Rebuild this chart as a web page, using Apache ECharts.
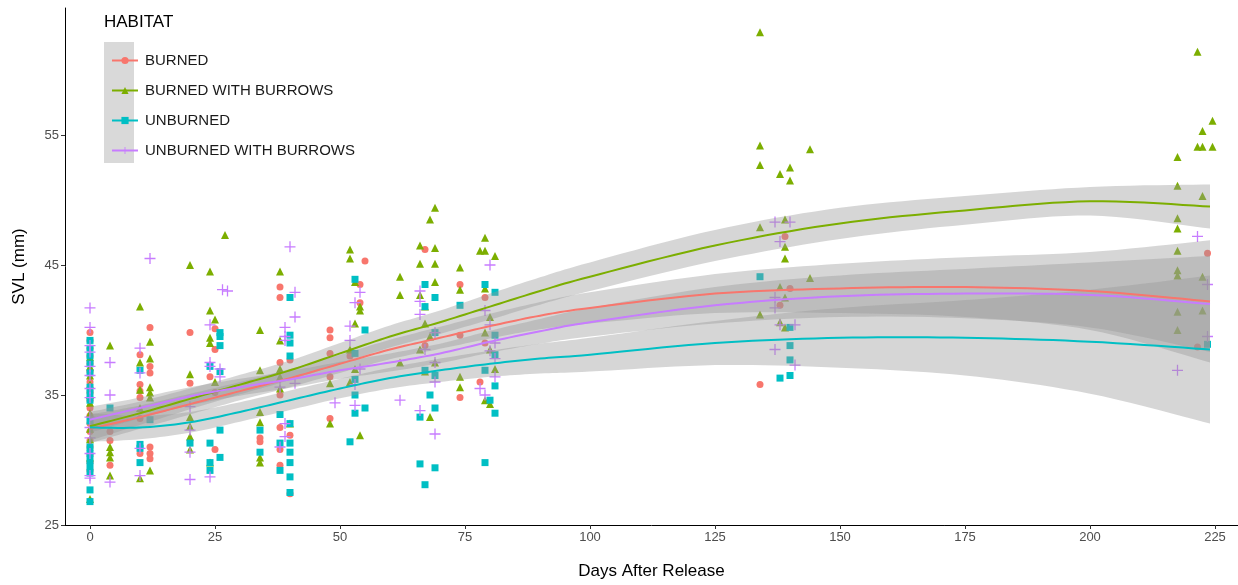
<!DOCTYPE html>
<html lang="en">
<head>
    <meta charset="UTF-8">
    <title>SVL by habitat</title>
    <script src="https://cdn.jsdelivr.net/npm/echarts@6/dist/echarts.min.js"></script>
    <style>
        * { margin: 0; padding: 0 }
        html, body { width: 100%; height: 100%; background: #fff; }
        #main { width: 1238px; height: 585px; }
    </style>
</head>
<body>
<div id="main"></div>
<script type="text/javascript">
    // habitat groups and colours (ggplot default hues)
    var habitats = ['BURNED', 'BURNED WITH BURROWS', 'UNBURNED', 'UNBURNED WITH BURROWS'];
    var colors = ['#F8766D', '#7CAE00', '#00BFC4', '#C77CFF'];

    // days where the smooth curves were read
    var fitDays = [0, 10, 20, 30, 40, 50, 60, 70, 80, 90, 100, 125, 150, 175, 200, 224];

    // loess fits
    var burnedFit   = [32.4, 33.3, 34.3, 35.3, 36.3, 37.4, 38.5, 39.4, 40.3, 41.1, 41.7, 42.8, 43.2, 43.3, 43.0, 42.2];
    var burrowsFit  = [32.6, 33.6, 34.7, 35.8, 36.9, 38.2, 39.5, 40.6, 41.8, 43.0, 44.1, 46.5, 48.2, 49.2, 49.9, 49.5];
    var unburnedFit = [32.5, 32.5, 32.9, 33.7, 34.6, 35.5, 36.3, 36.9, 37.4, 37.8, 38.1, 39.0, 39.4, 39.4, 39.1, 38.5];
    var unbBurrFit  = [33.1, 34.0, 34.9, 35.6, 36.2, 36.9, 37.5, 38.2, 39.1, 39.9, 40.6, 41.9, 42.6, 42.8, 42.7, 42.0];

    // half width of the confidence ribbons
    var burnedSe   = [1.1, 0.9, 0.8, 0.7, 0.7, 0.7, 0.75, 0.85, 0.95, 1.05, 1.2, 1.5, 1.9, 2.3, 3.0, 4.7];
    var burrowsSe  = [1.1, 0.9, 0.8, 0.75, 0.75, 0.8, 0.85, 0.9, 1.0, 1.05, 1.1, 1.2, 1.2, 1.1, 1.1, 1.7];
    var unburnedSe = [1.1, 0.9, 0.8, 0.75, 0.75, 0.75, 0.8, 0.9, 1.0, 1.15, 1.3, 1.7, 2.3, 2.9, 4.0, 5.7];
    var unbBurrSe  = [1.0, 0.8, 0.7, 0.65, 0.65, 0.65, 0.7, 0.75, 0.85, 0.95, 1.1, 1.4, 1.6, 1.9, 2.5, 3.7];

    // observations [day, SVL]
    var burnedPts = [
        [0,39.8],[0,39.2],[0,38.6],[0,38.0],[0,37.4],[0,36.8],[0,36.0],[0,35.2],[0,34.6],[0,34.0],[0,33.4],
        [0,32.8],[0,32.2],[0,31.5],[0,31.0],[0,30.4],[0,29.8],[0,29.2],
        [4,32.2],[4,31.5],[4,29.6],
        [10,38.1],[10,35.8],[10,35.3],[10,34.8],[10,33.2],[10,30.5],
        [12,40.2],[12,37.2],[12,36.7],[12,31.0],[12,30.5],[12,30.1],
        [20,39.8],[20,35.9],[24,36.4],
        [25,40.1],[25,38.5],[25,35.2],[25,30.8],
        [34,31.7],[34,31.4],
        [38,43.3],[38,42.5],[38,37.5],[38,35.0],[38,32.5],[38,30.8],[38,29.6],
        [40,37.7],[40,31.9],[40,27.4],
        [48,40.0],[48,39.4],[48,38.2],[48,36.4],[48,33.2],
        [52,38.0],[54,43.5],[54,42.1],[55,45.3],
        [67,46.2],[67,38.8],
        [74,43.5],[74,39.6],[74,34.8],
        [78,36.0],[79,42.5],[79,39.0],
        [134,35.8],[139,47.2],[140,43.2],[138,41.9],
        [223.5,45.9],[221.5,38.7]
    ];
    var burrowsPts = [
        [0,37.9],[0,37.2],[0,36.5],[0,35.8],[0,35.0],[0,34.4],[0,33.6],[0,32.4],[0,31.6],[0,30.2],[0,27.0],
        [4,38.8],[4,31.0],[4,30.6],[4,30.2],[4,28.8],
        [10,41.8],[10,37.5],[10,35.4],[10,34.0],[10,28.6],
        [12,39.1],[12,37.8],[12,35.6],[12,35.2],[12,34.8],[12,29.2],
        [20,45.0],[20,36.6],[20,33.3],[20,32.6],[20,31.8],[20,30.8],
        [24,44.5],[24,41.5],[24,39.4],[24,39.0],[24,29.8],
        [25,40.8],[25,36.0],[27,47.3],
        [34,40.0],[34,36.9],[34,33.7],[34,32.9],[34,30.2],[34,29.8],
        [38,44.5],[38,39.2],[38,37.0],[38,36.4],[38,35.5],[40,32.8],
        [48,35.9],[48,32.8],
        [52,46.2],[52,45.5],[53,43.7],[54,41.8],[54,41.5],[53,40.5],[52,38.5],[53,37.0],[52,36.0],[54,31.9],
        [62,44.1],[62,42.7],[62,37.5],
        [69,49.4],[68,48.5],[66,46.5],[69,46.3],[66,45.1],[69,45.1],[69,43.7],[66,42.7],[67,41.8],
        [67,40.5],[68,39.5],[66,38.5],[69,37.5],[67,36.8],[68,33.3],
        [74,44.8],[74,43.1],[74,36.4],[74,35.6],
        [79,47.1],[78,46.1],[79,46.1],[81,45.7],[79,43.2],[80,41.0],[79,39.8],[80,38.5],[81,37.0],[79,34.6],[80,34.3],
        [134,62.9],[134,54.2],[134,52.7],[134,47.9],[134,41.2],
        [138,52.0],[140,52.5],[140,51.5],[139,48.5],[139,46.4],[139,45.5],[138,43.3],[139,42.5],[138,40.6],[139,40.2],
        [144,53.9],[144,44.0],
        [217.5,53.3],[217.5,51.1],[217.5,48.6],[217.5,47.8],[217.5,46.1],[217.5,44.6],[217.5,44.2],[217.5,41.4],[217.5,40.0],
        [221.5,61.4],[222.5,54.1],[222.5,50.3],[222.5,44.1],[222.5,41.5],
        [222.5,55.3],[221.5,54.1],[224.5,56.1],[224.5,54.1]
    ];
    var unburnedPts = [
        [0,39.2],[0,38.6],[0,38.0],[0,37.4],[0,36.7],[0,35.6],[0,35.1],[0,34.6],[0,33.0],[0,31.0],[0,30.5],
        [0,30.0],[0,29.5],[0,29.0],[0,27.7],[0,26.8],
        [4,34.0],
        [10,36.9],[10,31.2],[10,30.9],[10,29.8],
        [12,33.1],[20,31.3],
        [24,37.2],[24,31.3],[24,29.8],[24,29.2],
        [26,39.8],[26,39.5],[26,38.8],[26,36.8],[26,32.3],[26,30.2],
        [34,32.3],[34,30.6],
        [38,33.5],[38,31.3],[38,29.2],
        [40,42.5],[40,39.6],[40,39.0],[40,38.0],[40,32.8],[40,31.3],[40,30.6],[40,29.8],[40,28.7],[40,27.5],
        [53,43.9],[55,40.0],[53,38.2],[53,36.2],[53,35.0],[55,34.0],[53,33.6],[52,31.4],
        [67,43.5],[69,42.5],[67,41.8],[69,39.8],[67,36.9],[69,36.5],[68,35.0],[69,34.0],[66,33.3],
        [66,29.7],[69,29.4],[67,28.1],
        [74,41.9],
        [79,43.5],[81,42.9],[81,39.6],[81,38.1],[79,36.9],[81,35.7],[80,34.6],[81,33.6],[79,29.8],
        [134,44.1],
        [140,40.2],[140,38.8],[140,37.7],[138,36.3],[140,36.5],
        [223.5,38.9]
    ];
    var unbBurrPts = [
        [0,41.7],[0,40.2],[0,38.8],[0,38.3],[0,37.2],[0,36.5],[0,35.5],[0,34.8],[0,33.3],[0,32.5],[0,31.7],
        [0,30.5],[0,28.8],[0,28.6],
        [4,37.5],[4,35.0],[4,28.3],
        [10,38.6],[10,36.7],[10,30.9],[10,28.8],
        [12,45.5],
        [20,34.1],[20,32.3],[20,30.6],[20,28.5],
        [24,40.4],[24,37.5],[24,37.2],[24,28.7],
        [26.5,43.1],[27.5,43.0],[26,37.0],[26,36.4],
        [39,40.2],[39,39.5],[39,39.2],[38,35.6],[41,35.9],[39,32.8],[39,31.8],[38,31.0],
        [40,46.4],[41,42.9],[41,41.0],
        [49,34.4],
        [54,42.9],[53,42.1],[52,40.3],[52,39.2],[54,37.0],[53,35.8],[53,34.2],
        [62,34.6],
        [66,43.0],[66,42.2],[66,41.2],[69,39.8],[67,38.5],[69,37.5],[69,36.0],[66,33.8],[69,32.0],
        [80,45.0],[79,41.5],[80,40.4],[81,39.0],[80,38.4],[81,37.8],[78,35.5],[81,36.4],[79,35.0],
        [137,48.3],[140,48.3],[138,46.8],[137,42.5],[137,41.7],[138,40.4],[141,40.4],[137,38.5],[141,37.3],
        [217.5,36.9],
        [221.5,47.2],[223.5,43.5],[223.5,39.5]
    ];

    // axis ticks
    var xTicks = [0, 25, 50, 75, 100, 125, 150, 175, 200, 225];
    var yTicks = [25, 35, 45, 55];

    var fits = [burnedFit, burrowsFit, unburnedFit, unbBurrFit];
    var ses = [burnedSe, burrowsSe, unburnedSe, unbBurrSe];
    var pts = [burnedPts, burrowsPts, unburnedPts, unbBurrPts];
    var symbols = ['circle', 'triangle', 'rect',
        'path://M0,5.3H12V6.7H0Z M5.3,0H6.7V12H5.3Z'];
    var symbolSizes = [7, 8, 7, 11];

    var myChart = echarts.init(document.getElementById('main'));

    // catmull-rom through the read pixel points, used for ribbons and fit lines
    function spline(p) {
        var out = [];
        var n = p.length;
        for (var i = 0; i < n - 1; i++) {
            var p0 = p[Math.max(i - 1, 0)], p1 = p[i], p2 = p[i + 1], p3 = p[Math.min(i + 2, n - 1)];
            for (var s = 0; s < 10; s++) {
                var t = s / 10, t2 = t * t, t3 = t2 * t;
                out.push([
                    0.5 * (2 * p1[0] + (-p0[0] + p2[0]) * t + (2 * p0[0] - 5 * p1[0] + 4 * p2[0] - p3[0]) * t2 + (-p0[0] + 3 * p1[0] - 3 * p2[0] + p3[0]) * t3),
                    0.5 * (2 * p1[1] + (-p0[1] + p2[1]) * t + (2 * p0[1] - 5 * p1[1] + 4 * p2[1] - p3[1]) * t2 + (-p0[1] + 3 * p1[1] - 3 * p2[1] + p3[1]) * t3)
                ]);
            }
        }
        out.push(p[n - 1]);
        return out;
    }

    function bandRender(fit, se) {
        return function (params, api) {
            if (params.dataIndex > 0) return;
            var upper = [], lower = [];
            for (var i = 0; i < fitDays.length; i++) {
                upper.push(api.coord([fitDays[i], fit[i] + se[i]]));
                lower.push(api.coord([fitDays[i], fit[i] - se[i]]));
            }
            var points = spline(upper).concat(spline(lower).reverse());
            return {
                type: 'polygon',
                shape: {points: points},
                style: {fill: 'rgba(153,153,153,0.4)'}
            };
        };
    }

    function lineRender(fit, color) {
        return function (params, api) {
            if (params.dataIndex > 0) return;
            var mid = [];
            for (var i = 0; i < fitDays.length; i++) {
                mid.push(api.coord([fitDays[i], fit[i]]));
            }
            return {
                type: 'polyline',
                shape: {points: spline(mid)},
                style: {stroke: color, lineWidth: 2, fill: null}
            };
        };
    }

    var series = [];
    // empty line series: only give the legend its line + marker icons
    for (var k = 0; k < 4; k++) {
        series.push({
            name: habitats[k],
            type: 'line',
            data: [],
            symbol: symbols[k],
            symbolSize: symbolSizes[k],
            lineStyle: {width: 2, color: colors[k]},
            itemStyle: {color: colors[k]}
        });
    }
    for (var k = 0; k < 4; k++) {
        series.push({
            name: habitats[k],
            type: 'scatter',
            data: pts[k],
            symbol: symbols[k],
            symbolSize: symbolSizes[k],
            itemStyle: {color: colors[k], opacity: 1},
            z: 2
        });
    }
    for (var k = 0; k < 4; k++) {
        series.push({
            name: 'band' + k,
            type: 'custom',
            renderItem: bandRender(fits[k], ses[k]),
            data: [[fitDays[0], fits[k][0]]],
            z: 3,
            silent: true
        });
    }
    for (var k = 0; k < 4; k++) {
        series.push({
            name: 'fit' + k,
            type: 'custom',
            renderItem: lineRender(fits[k], colors[k]),
            data: [[fitDays[0], fits[k][0]]],
            z: 5,
            silent: true
        });
    }

    var option = {
        animation: false,
        textStyle: {fontFamily: 'Liberation Sans, Arial, sans-serif'},
        grid: {left: 65, right: 0, top: 8, bottom: 60},
        graphic: [
            {
                type: 'rect',
                z: 0,
                shape: {x: 104, y: 42, width: 30, height: 121},
                style: {fill: '#D9D9D9'}
            },
            {
                type: 'text',
                left: 104,
                top: 14,
                style: {text: 'HABITAT', fontSize: 17, fill: '#000', fontFamily: 'Liberation Sans, Arial, sans-serif'}
            }
        ],
        legend: {
            data: habitats,
            orient: 'vertical',
            left: 106,
            top: 48,
            itemWidth: 26,
            itemHeight: 9,
            itemGap: 15,
            z: 10,
            textStyle: {fontSize: 15, color: '#1A1A1A', padding: [0, 0, 0, 2]}
        },
        xAxis: {
            type: 'value',
            min: -5,
            max: 229.6,
            name: 'Days After Release',
            nameLocation: 'middle',
            nameGap: 38,
            nameTextStyle: {fontSize: 17, color: '#000'},
            axisLine: {onZero: false, lineStyle: {color: '#000', width: 1}},
            axisTick: {length: 4, lineStyle: {color: '#333'}, customValues: xTicks},
            axisLabel: {fontSize: 13, color: '#4D4D4D', margin: 6, customValues: xTicks},
            splitLine: {show: false}
        },
        yAxis: {
            type: 'value',
            min: 25,
            max: 64.77,
            name: 'SVL (mm)',
            nameLocation: 'middle',
            nameGap: 37,
            nameTextStyle: {fontSize: 17, color: '#000'},
            axisLine: {show: true, onZero: false, lineStyle: {color: '#000', width: 1}},
            axisTick: {show: true, length: 4, lineStyle: {color: '#333'}, customValues: yTicks},
            axisLabel: {fontSize: 13, color: '#4D4D4D', margin: 6, customValues: yTicks},
            splitLine: {show: false}
        },
        series: series
    };

    myChart.setOption(option);
</script>
</body>
</html>
